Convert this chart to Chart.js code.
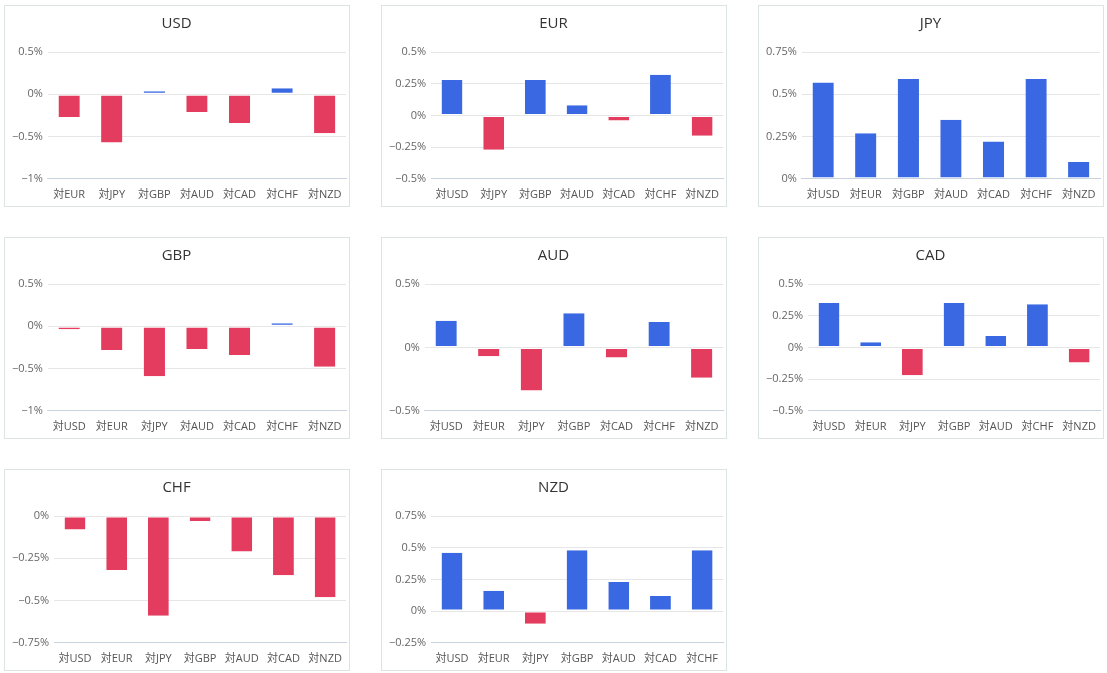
<!DOCTYPE html>
<html>
<head>
<meta charset="utf-8">
<script src="https://cdn.jsdelivr.net/npm/chart.js@4.4.1/dist/chart.umd.min.js"></script>
<style>
  body { margin: 0; background: #fff; font-family: 'Open Sans', 'Noto Sans CJK JP', sans-serif; }
  .panel { position: absolute; width: 344px; height: 200px; border: 1px solid #dbe3e3; background: #fff; }
  .panel canvas { display: block; }
</style>
</head>
<body>
<div id="wrap"></div>
<script>
// 通貨の並び（各パネルは自分以外の通貨との比較）
const currencies = ['USD', 'EUR', 'JPY', 'GBP', 'AUD', 'CAD', 'CHF', 'NZD'];

// 変化率(%) 並びは currencies から自通貨を除いた順
const usdValues = [-0.27, -0.57, 0.01, -0.21, -0.34, 0.07, -0.46];
const eurValues = [0.28, -0.27, 0.28, 0.08, -0.04, 0.32, -0.16];
const jpyValues = [0.57, 0.27, 0.59, 0.35, 0.22, 0.59, 0.10];
const gbpValues = [-0.02, -0.28, -0.59, -0.27, -0.34, 0.03, -0.48];
const audValues = [0.21, -0.07, -0.34, 0.27, -0.08, 0.20, -0.24];
const cadValues = [0.35, 0.04, -0.22, 0.35, 0.09, 0.34, -0.12];
const chfValues = [-0.08, -0.32, -0.59, -0.03, -0.21, -0.35, -0.48];
const nzdValues = [0.46, 0.16, -0.10, 0.48, 0.23, 0.12, 0.48];

// 目盛り
const yMin  = [-1, -0.5, 0, -1, -0.5, -0.5, -0.75, -0.25];
const yMax  = [0.5, 0.5, 0.75, 0.5, 0.5, 0.5, 0, 0.75];
const yStep = [0.5, 0.25, 0.25, 0.5, 0.5, 0.25, 0.25, 0.25];

const allValues = [usdValues, eurValues, jpyValues, gbpValues, audValues, cadValues, chfValues, nzdValues];

const BLUE = '#3a68e2';
const RED = '#e33c5f';
const FONT = "'Open Sans', 'Noto Sans CJK JP', sans-serif";

const wrap = document.getElementById('wrap');

currencies.forEach(function(cur, i) {
  const div = document.createElement('div');
  div.className = 'panel';
  div.style.left = (4 + (i % 3) * 377) + 'px';
  div.style.top = (5 + Math.floor(i / 3) * 232) + 'px';
  const cv = document.createElement('canvas');
  cv.width = 344; cv.height = 200;
  cv.style.width = '344px'; cv.style.height = '200px';
  div.appendChild(cv);
  wrap.appendChild(div);

  const labels = currencies.filter(c => c !== cur).map(c => '対' + c);
  const vals = allValues[i];

  new Chart(cv, {
    type: 'bar',
    data: {
      labels: labels,
      datasets: [{
        data: vals,
        backgroundColor: vals.map(v => v >= 0 ? BLUE : RED),
        borderColor: '#ffffff',
        // 0ライン側だけ白い縁
        borderWidth: vals.map(v => v >= 0 ? { bottom: 1 } : { top: 1 }),
        borderSkipped: false,
        minBarLength: 3,
        barPercentage: 0.5,
        categoryPercentage: 1
      }]
    },
    options: {
      responsive: false,
      animation: false,
      layout: { padding: { left: 2, right: 3, bottom: 4 } },
      plugins: {
        legend: { display: false },
        tooltip: { enabled: false },
        title: {
          display: true,
          text: cur,
          color: '#333',
          font: { family: FONT, size: 15, weight: 'normal' },
          padding: { top: 9, bottom: 19 }
        }
      },
      scales: {
        x: {
          grid: { display: false },
          border: { display: true, color: '#c9d3de' },
          ticks: { color: '#555', font: { family: FONT, size: 11 }, padding: 1, maxRotation: 0, autoSkip: false }
        },
        y: {
          min: yMin[i],
          max: yMax[i],
          grid: { color: '#e6e6e6', drawTicks: false },
          border: { display: false },
          ticks: {
            stepSize: yStep[i],
            color: '#666',
            padding: 5,
            font: { family: FONT, size: 11 },
            callback: function(v) {
              const r = Math.round(v * 100) / 100;
              return (r < 0 ? '\u2212' + Math.abs(r) : String(r)) + '%';
            }
          }
        }
      }
    }
  });
});
</script>
</body>
</html>
